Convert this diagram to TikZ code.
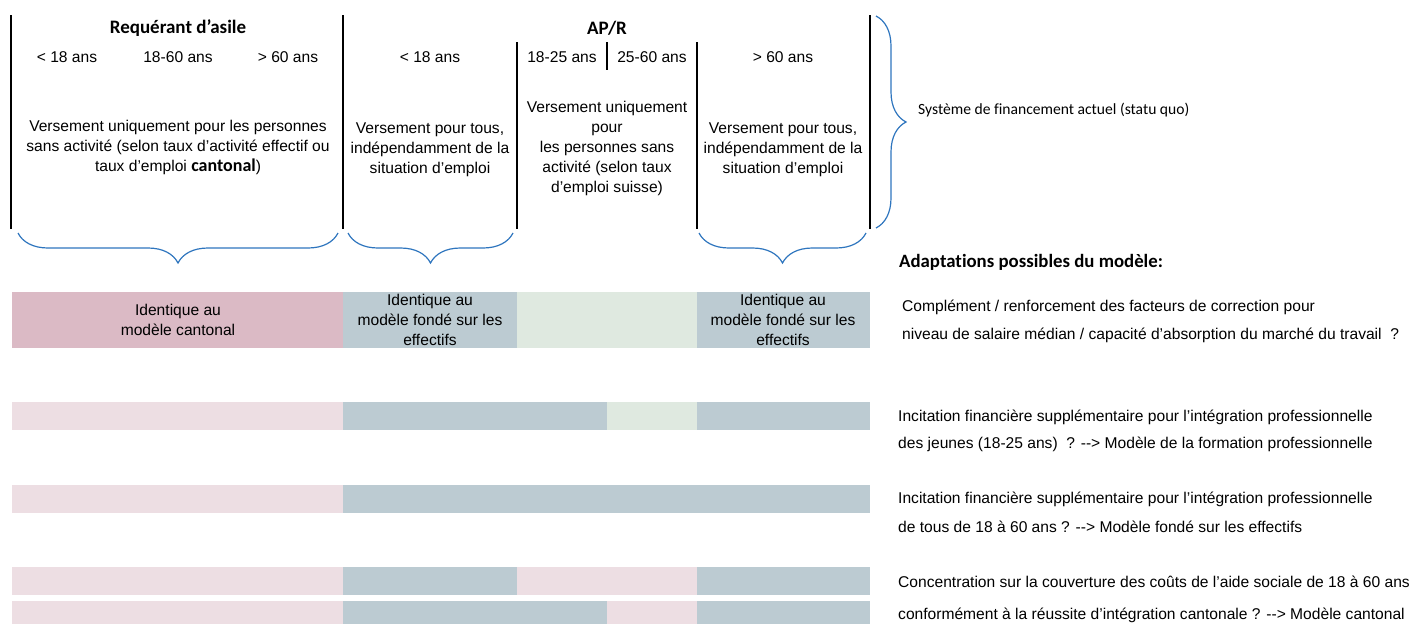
\documentclass[tikz,border=0pt]{standalone}
\usepackage{fontspec}
\setmainfont{Liberation Sans}
\newfontfamily\calibri[Ligatures=NoCommon]{Carlito}
\usetikzlibrary{positioning,decorations.pathreplacing}
\definecolor{rose}{RGB}{219,186,197}
\definecolor{rosepale}{RGB}{237,222,227}
\definecolor{gris}{RGB}{188,203,210}
\definecolor{vert}{RGB}{223,233,224}
\definecolor{accolade}{RGB}{46,117,190}

\begin{document}
\begin{tikzpicture}[x=1pt,y=-1pt,
  txt/.style={font=\fontsize{15.6}{20}\selectfont,align=center,inner sep=0pt},
  note/.style={txt,anchor=west,align=left},
  titre/.style={font=\calibri\bfseries\fontsize{19}{20}\selectfont,inner sep=0pt},
  sep/.style={line width=2.2pt},
  acc/.style={draw=accolade,line width=1.2pt,decorate,decoration={brace,amplitude=#1}}]
\useasboundingbox (0,0) rectangle (1410,624);

% statu quo
\draw[sep] (11,15) -- (11,229);
\draw[sep] (343,15) -- (343,229);
\draw[sep] (517,42) -- (517,229);
\draw[sep] (607,42) -- (607,70);
\draw[sep] (697,42) -- (697,229);
\draw[sep] (870,15) -- (870,229);

\node[titre] (ra) at (178,28) {Requérant d’asile};
\node[titre] (apr) at (607,28) {AP/R};
\node[txt] (ra1) at (67,57) {< 18 ans};
\node[txt] (ra2) at (178,57) {18-60 ans};
\node[txt] (ra3) at (288,57) {> 60 ans};
\node[txt] (apr1) at (430,57) {< 18 ans};
\node[txt] (apr2) at (562,57) {18-25 ans};
\node[txt] (apr3) at (652,57) {25-60 ans};
\node[txt] (apr4) at (783,57) {> 60 ans};

\node[txt] (v1) at (178,147) {Versement uniquement pour les personnes\\sans activité (selon taux d{\char"0027}activité effectif ou\\taux d’emploi {\calibri\bfseries\fontsize{18}{20}\selectfont cantonal})};
\node[txt] (v2) at (430,150) {Versement pour tous,\\indépendamment de la\\situation d’emploi};
\node[txt] (v3) at (607,148) {Versement uniquement\\pour\\les personnes sans\\activité (selon taux\\d’emploi suisse)};
\node[txt] (v4) at (783,150) {Versement pour tous,\\indépendamment de la\\situation d’emploi};

\draw[acc=30] (338,233) -- (18,233);
\draw[acc=30] (513,233) -- (348,233);
\draw[acc=30] (866,233) -- (699,233);
\draw[acc=30] (876,16) -- (876,228);
\node[anchor=west,inner sep=0pt,font=\calibri\fontsize{15.6}{17}\selectfont] (sq) at (918,110) {Système de financement actuel (statu quo)};
\node[anchor=west,inner sep=0pt,font=\calibri\bfseries\fontsize{18.8}{20}\selectfont] (adapt) at (899,262) {Adaptations possibles du modèle:};

% adaptations
\foreach \xa/\xb/\c in {12/343/rose,343/517/gris,517/697/vert,697/870/gris}
  \fill[\c] (\xa,292) rectangle (\xb,348);
\foreach \xa/\xb/\c in {12/343/rosepale,343/607/gris,607/697/vert,697/870/gris}
  \fill[\c] (\xa,402) rectangle (\xb,430);
\foreach \xa/\xb/\c in {12/343/rosepale,343/870/gris}
  \fill[\c] (\xa,485) rectangle (\xb,513);
\foreach \xa/\xb/\c in {12/343/rosepale,343/517/gris,517/697/rosepale,697/870/gris}
  \fill[\c] (\xa,567) rectangle (\xb,595);
\foreach \xa/\xb/\c in {12/343/rosepale,343/607/gris,607/697/rosepale,697/870/gris}
  \fill[\c] (\xa,601) rectangle (\xb,624);

\node[txt] (m1) at (178,320) {Identique au\\modèle cantonal};
\node[txt] (m2) at (430,320) {Identique au\\modèle fondé sur les\\effectifs};
\node[txt] (m4) at (783,320) {Identique au\\modèle fondé sur les\\effectifs};

\node[note] (n1a) at (902,307) {Complément / renforcement des facteurs de correction pour};
\node[note] (n1b) at (902,335) {niveau de salaire médian / capacité d’absorption du marché du travail\ \ ?};
\node[note] (n2a) at (898,417) {Incitation financière supplémentaire pour l’intégration professionnelle};
\node[note] (n2b) at (898,444) {des jeunes (18-25 ans)\ \ ? -{}-> Modèle de la formation professionnelle};
\node[note] (n3a) at (898,499) {Incitation financière supplémentaire pour l’intégration professionnelle};
\node[note] (n3b) at (898,527) {de tous de 18 à 60 ans ? -{}-> Modèle fondé sur les effectifs};
\node[note] (n4a) at (898,582) {Concentration sur la couverture des coûts de l’aide sociale de 18 à 60 ans};
\node[note] (n4b) at (898,615) {conformément à la réussite d’intégration cantonale ? -{}-> Modèle cantonal};
\end{tikzpicture}
\end{document}
